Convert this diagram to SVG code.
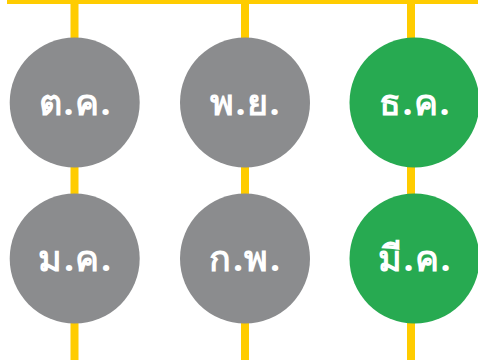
<svg xmlns="http://www.w3.org/2000/svg" width="478" height="360" viewBox="0 0 478 360">
<style>
.ln{stroke:#ffcc00;stroke-width:8;fill:none}
.g{fill:#8b8c8e}
.gr{fill:#27aa51}
.t{fill:#fff;font-family:"Noto Sans","DejaVu Sans",sans-serif;font-weight:bold;font-size:36px;letter-spacing:1.5px;text-anchor:middle}
</style>
<rect width="478" height="360" fill="#fff"/>
<g id="connectors">
<line class="ln" x1="7" y1="0" x2="478" y2="0"/>
<line class="ln" x1="74.5" y1="0" x2="74.5" y2="360"/>
<line class="ln" x1="245" y1="0" x2="245" y2="360"/>
<line class="ln" x1="411" y1="0" x2="411" y2="360"/>
</g>
<g id="oct"><circle class="g" cx="74.7" cy="102.5" r="65"/><text class="t" x="75.5" y="115">ต.ค.</text></g>
<g id="nov"><circle class="g" cx="245" cy="102.5" r="65"/><text class="t" x="245.5" y="115">พ.ย.</text></g>
<g id="dec"><circle class="gr" cx="414.5" cy="102.5" r="65"/><text class="t" x="415" y="115">ธ.ค.</text></g>
<g id="jan"><circle class="g" cx="74.7" cy="258.5" r="65"/><text class="t" x="75.5" y="271">ม.ค.</text></g>
<g id="feb"><circle class="g" cx="245" cy="258.5" r="65"/><text class="t" x="245.5" y="271">ก.พ.</text></g>
<g id="mar"><circle class="gr" cx="414.5" cy="258.5" r="65"/><text class="t" x="415" y="271">มี.ค.</text></g>
</svg>
